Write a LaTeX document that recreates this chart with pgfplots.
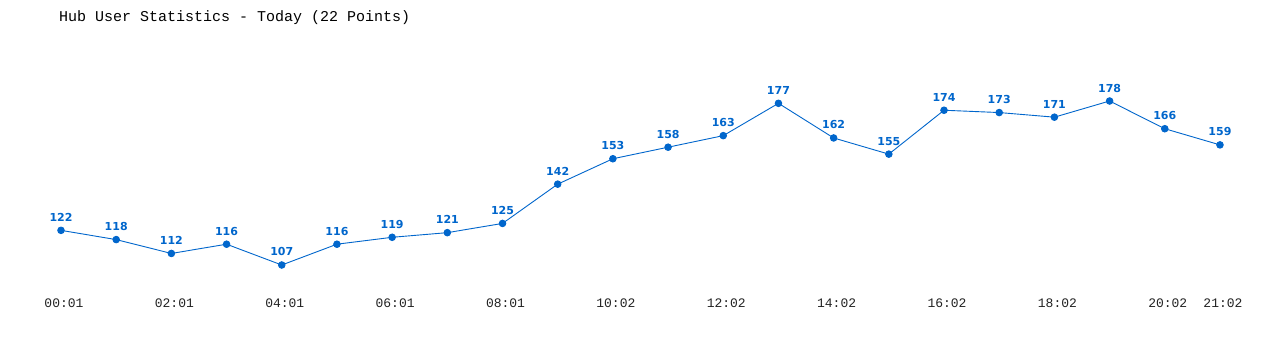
\documentclass[border=0pt]{standalone}
\usepackage{pgfplots}
\pgfplotsset{compat=1.18}
\usepackage{fontspec}
\setmainfont{DejaVu Sans}
\newfontfamily\monof{Liberation Mono}
\definecolor{lineblue}{HTML}{0066CC}
\definecolor{tickgray}{HTML}{222222}
\begin{document}
\begin{tikzpicture}
\path[fill=white] (0,0) rectangle (1280bp,350bp);
\node[anchor=west, font=\monof\fontsize{15bp}{17bp}\selectfont, text=black, inner sep=0] at (59bp,332bp) {Hub User Statistics - Today (22 Points)};
\begin{axis}[
  at={(61bp,85bp)}, anchor=south west,
  scale only axis, width=1164.5bp, height=164bp,
  xmin=0, xmax=21.1, ymin=107, ymax=178,
  clip=false,
  axis line style={draw=none},
  tick style={draw=none},
  ytick=\empty,
  xtick={0,2,4,6,8,10,12,14,16,18,20,21},
  xticklabels={00:01,02:01,04:01,06:01,08:01,10:02,12:02,14:02,16:02,18:02,20:02,21:02},
  xticklabel style={font=\monof\fontsize{13bp}{15bp}\selectfont, text=tickgray, anchor=base, yshift=-42bp, xshift=3bp, inner sep=0},
  nodes near coords,
  nodes near coords style={font=\bfseries\fontsize{11bp}{13bp}\selectfont, text=lineblue, anchor=base, yshift=9bp, inner sep=0},
  /pgf/number format/assume math mode=true,
]
\addplot[color=lineblue, line width=0.9bp, mark=*, mark size=3.3bp, mark options={fill=lineblue, draw=lineblue}] coordinates {
(0,122) (1,118) (2,112) (3,116) (4,107) (5,116) (6,119) (7,121) (8,125) (9,142) (10,153)
(11,158) (12,163) (13,177) (14,162) (15,155) (16,174) (17,173) (18,171) (19,178) (20,166) (21,159)
};
\end{axis}
\end{tikzpicture}
\end{document}
